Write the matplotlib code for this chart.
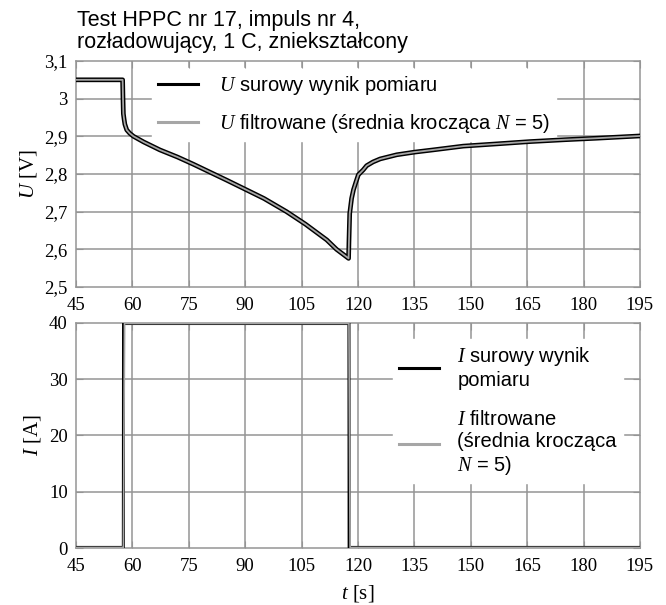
import matplotlib
matplotlib.use("Agg")
import matplotlib.pyplot as plt

plt.rcParams['font.family'] = ['Liberation Sans', 'DejaVu Sans']
plt.rcParams['mathtext.fontset'] = 'custom'
plt.rcParams['mathtext.it'] = 'Liberation Serif:italic'
plt.rcParams['mathtext.rm'] = 'Liberation Serif'

# voltage
t_u = [45, 57.4, 57.5, 57.6, 57.8, 58.0, 58.5, 59.3, 60.3, 63, 67.3, 72, 76.2, 80.6,
       85, 89.5, 95, 101, 106, 111.7, 114.3, 117.5, 117.6, 117.8, 118.3, 118.8, 119.5,
       120.1, 121.4, 122.3, 124, 125.9, 130.3, 135, 140, 148, 157, 165.7, 175, 183.5, 195]
u_raw = [3.05, 3.05, 3.0, 2.96, 2.945, 2.932, 2.917, 2.908, 2.9, 2.885, 2.864, 2.845,
         2.826, 2.805, 2.784, 2.762, 2.735, 2.70, 2.667, 2.625, 2.60, 2.576, 2.62, 2.695,
         2.735, 2.758, 2.78, 2.798, 2.811, 2.822, 2.832, 2.84, 2.851, 2.858, 2.864, 2.874,
         2.88, 2.886, 2.891, 2.895, 2.901]
u_filt = u_raw

# current
t_i = [45, 57.6, 57.65, 117.6, 117.65, 195]
i_raw = [0.1, 0.1, 39.9, 39.9, 0.1, 0.1]
t_i_f = [45, 57.6, 57.9, 117.6, 117.9, 195]
i_filt = [0.1, 0.1, 39.9, 39.9, 0.1, 0.1]

x_ticks = [45, 60, 75, 90, 105, 120, 135, 150, 165, 180, 195]
u_ticks = [2.5, 2.6, 2.7, 2.8, 2.9, 3.0, 3.1]
u_tick_labels = ['2,5', '2,6', '2,7', '2,8', '2,9', '3', '3,1']
i_ticks = [0, 10, 20, 30, 40]

title = 'Test HPPC nr 17, impuls nr 4,\nrozładowujący, 1 C, zniekształcony'

raw_col = 'black'
filt_col = '#a6a6a6'
grid_col = '#959595'
serif = 'Liberation Serif'

fig = plt.figure(figsize=(6.66, 6.05), dpi=100)
ax1 = fig.add_axes([0.1141, 0.5256, 0.8468, 0.3736])
ax2 = fig.add_axes([0.1141, 0.0942, 0.8468, 0.3720])


def style(ax, yt, ylabels=None):
    ax.set_xlim(45, 195)
    ax.set_xticks(x_ticks)
    ax.set_yticks(yt)
    if ylabels:
        ax.set_yticklabels(ylabels)
    for x in x_ticks[1:-1]:
        ax.axvline(x, color=grid_col, lw=1.1, zorder=1)
    for y in yt[1:-1]:
        ax.axhline(y, color=grid_col, lw=1.1, zorder=1)
    for s in ax.spines.values():
        s.set_color(grid_col)
        s.set_linewidth(1.1)
    ax.tick_params(direction='in', length=5, color=grid_col, top=True, right=True,
                   labelsize=13.5)
    ax.tick_params(axis='x', pad=7)
    ax.tick_params(axis='y', pad=6)
    for lab in ax.get_xticklabels() + ax.get_yticklabels():
        lab.set_fontfamily(serif)
    ax.xaxis.set_zorder(2.5)
    ax.yaxis.set_zorder(2.5)


style(ax1, u_ticks, u_tick_labels)
ax1.set_ylim(2.5, 3.1)
ax1.plot(t_u, u_raw, color=raw_col, lw=3.4, zorder=3, label='$U$ surowy wynik pomiaru')
ax1.plot(t_u, u_filt, color=filt_col, lw=1.3, zorder=4,
         label='$U$ filtrowane (średnia krocząca $N$ = 5)')
ax1.set_ylabel('$U$ [V]', fontsize=15, fontfamily=serif, labelpad=4)
leg1 = ax1.legend(loc='upper left', bbox_to_anchor=(0.135, 0.97), fontsize=14.5,
                  frameon=True, fancybox=False, framealpha=1, edgecolor='white',
                  borderpad=0.3, handlelength=2.0, handletextpad=1.0, labelspacing=0.75,
                  borderaxespad=0)
leg1.set_zorder(2)
for h in leg1.get_lines():
    h.set_linewidth(2.2)

style(ax2, i_ticks)
ax2.set_ylim(0, 40)
ax2.plot(t_i, i_raw, color=raw_col, lw=2.2, zorder=3, label='$I$ surowy wynik\npomiaru')
ax2.plot(t_i_f, i_filt, color=filt_col, lw=1.2, zorder=4,
         label='$I$ filtrowane\n(średnia krocząca\n$N$ = 5)')
ax2.set_ylabel('$I$ [A]', fontsize=15, fontfamily=serif, labelpad=4)
ax2.set_xlabel('$t$ [s]', fontsize=15, fontfamily=serif, labelpad=6)
leg2 = ax2.legend(loc='upper left', bbox_to_anchor=(0.562, 0.93), fontsize=14.5,
                  frameon=True, fancybox=False, framealpha=1, edgecolor='white',
                  borderpad=0.3, handlelength=2.0, handletextpad=0.9, labelspacing=1.0,
                  borderaxespad=0)
leg2.set_zorder(2)
for h in leg2.get_lines():
    h.set_linewidth(2.2)

fig.text(0.1156, 1 - 10 / 605, title, fontsize=15.5, ha='left', va='top', linespacing=1.05)

fig.savefig('out.png', dpi=100)
